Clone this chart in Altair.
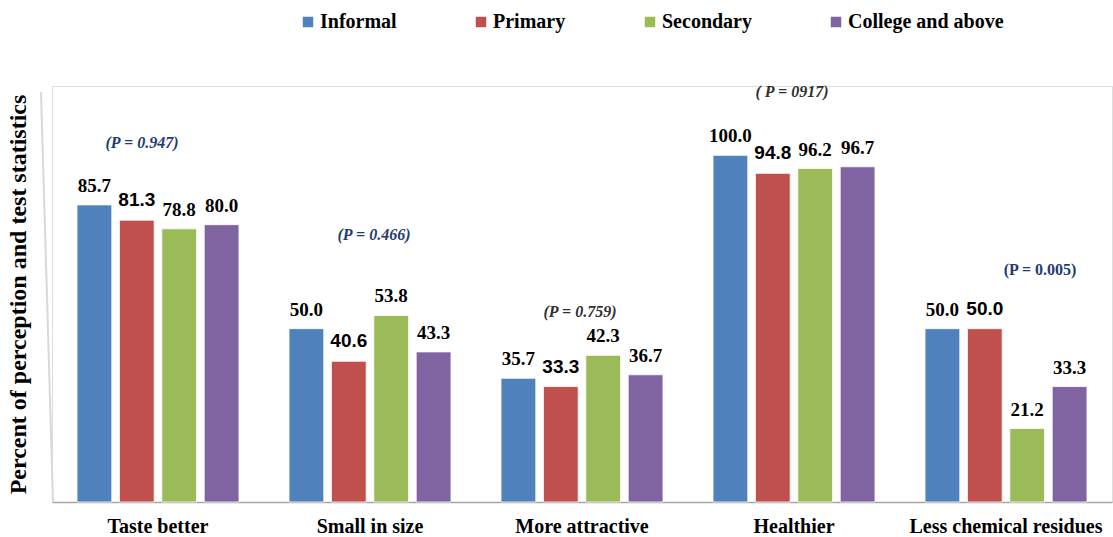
import altair as alt
import pandas as pd

categories = ["Taste better", "Small in size", "More attractive", "Healthier", "Less chemical residues"]
series = ["Informal", "Primary", "Secondary", "College and above"]
informal = [85.7, 50.0, 35.7, 100.0, 50.0]
primary = [81.3, 40.6, 33.3, 94.8, 50.0]
secondary = [78.8, 53.8, 42.3, 96.2, 21.2]
college = [80.0, 43.3, 36.7, 96.7, 33.3]
p_labels = ["(P =  0.947)", "(P = 0.466)", "(P = 0.759)", "( P = 0917)", "(P = 0.005)"]
p_levels = [103.7, 77.0, 54.8, 118.4, 66.9]

colors = ["#4f81bd", "#c0504d", "#9bbb59", "#8064a2"]
SERIF = "Liberation Serif"
SANS = "Liberation Sans"

rows = []
for s, vals in zip(series, [informal, primary, secondary, college]):
    for c, v in zip(categories, vals):
        rows.append({"category": c, "series": s, "value": v})
df = pd.DataFrame(rows)
ann = pd.DataFrame({"category": categories, "label": p_labels, "level": p_levels})

x_enc = alt.X("category:N", sort=categories,
              scale=alt.Scale(paddingInner=0.2, paddingOuter=0.1),
              axis=alt.Axis(title=None, labelAngle=0, ticks=False, domainColor="#a6a6a6",
                            domainWidth=1.5, labelFont=SERIF, labelFontWeight="bold",
                            labelFontSize=20, labelPadding=14, labelColor="#000000",
                            labelLimit=400))
xo_enc = alt.XOffset("series:N", sort=series, scale=alt.Scale(paddingInner=0.18, paddingOuter=0.09))
y_enc = alt.Y("value:Q", scale=alt.Scale(domain=[0, 120], nice=False),
              axis=alt.Axis(labels=False, ticks=False, domain=False, grid=False,
                            title="Percent of perception and test statistics",
                            titleFont=SERIF, titleFontSize=24, titleFontWeight="bold",
                            titlePadding=22, titleColor="#000000", titleLimit=600))

base = alt.Chart(df).encode(x=x_enc, xOffset=xo_enc, y=y_enc)

bars = base.mark_bar(stroke="#ffffff", strokeWidth=0.8).encode(
    color=alt.Color("series:N", sort=series, scale=alt.Scale(domain=series, range=colors),
                    legend=alt.Legend(title=None, orient="none", direction="horizontal",
                                      legendX=246, legendY=-74, symbolType="square",
                                      symbolSize=110, symbolStrokeWidth=0,
                                      labelFont=SERIF, labelFontWeight="bold",
                                      labelFontSize=20, labelColor="#000000",
                                      columnPadding=74, labelOffset=2, symbolOffset=0))
)

labels_serif = base.transform_filter(alt.datum.series != "Primary").mark_text(
    baseline="bottom", dy=-9, font=SERIF, fontWeight="bold", fontSize=19, color="#000000"
).encode(text=alt.Text("value:Q", format=".1f"))

labels_sans = base.transform_filter(alt.datum.series == "Primary").mark_text(
    baseline="bottom", dy=-10, font=SANS, fontWeight="bold", fontSize=19, color="#000000"
).encode(text=alt.Text("value:Q", format=".1f"))

ann_base = alt.Chart(ann).encode(
    x=alt.X("category:N", sort=categories),
    y=alt.Y("level:Q"),
    text="label:N",
)

ann_taste = ann_base.transform_filter(alt.datum.category == "Taste better").mark_text(
    font=SERIF, fontWeight="bold", fontStyle="italic", fontSize=16, dx=-16, color="#1f3b73")
ann_small = ann_base.transform_filter(alt.datum.category == "Small in size").mark_text(
    font=SERIF, fontWeight="bold", fontStyle="italic", fontSize=16, dx=4, color="#1f3b73")
ann_rest = ann_base.transform_filter(
    (alt.datum.category == "More attractive") | (alt.datum.category == "Healthier")
).mark_text(font=SERIF, fontWeight="bold", fontStyle="italic", fontSize=16, dx=-2, color="#303030")
ann_less = ann_base.transform_filter(alt.datum.category == "Less chemical residues").mark_text(
    font=SERIF, fontWeight="bold", fontSize=16, dx=34, color="#1f3b73")

yline = alt.Chart(alt.Data(values=[{}])).mark_rule(color="#d9d9d9", strokeWidth=2).encode(
    x=alt.value(-11), x2=alt.value(1), y=alt.value(6), y2=alt.value(416))

chart = alt.layer(yline, bars, labels_serif, labels_sans, ann_taste, ann_small,
                  ann_rest, ann_less).properties(
    width=1060, height=416,
    padding={"left": 52, "top": 86, "right": 1, "bottom": 35},
    autosize=alt.AutoSizeParams(type="none"),
).configure_view(stroke=None).configure(background="#ffffff")

chart.save("out.html", embed_options={"renderer": "svg", "actions": False})
